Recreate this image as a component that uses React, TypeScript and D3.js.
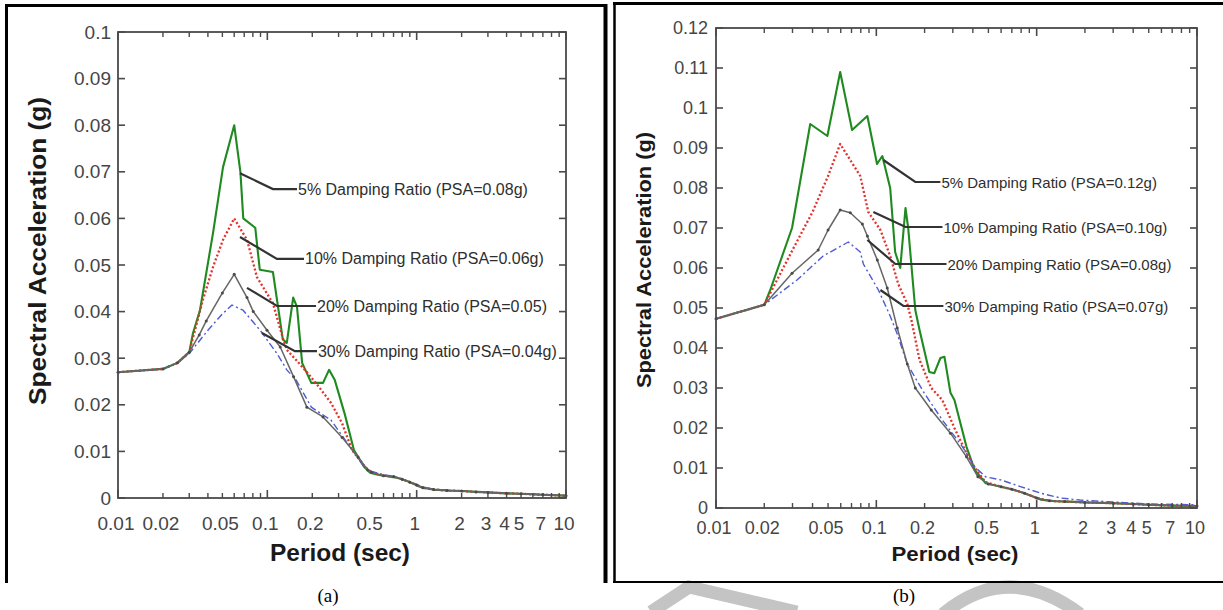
import React from "react";
import * as d3 from "d3";

// ---------------- Panel (a) data ----------------
const periodsA5 = [0.01, 0.02, 0.025, 0.03, 0.0318, 0.0354, 0.0433, 0.0505, 0.06, 0.066, 0.069, 0.083, 0.089, 0.109, 0.127, 0.135, 0.149, 0.158, 0.171, 0.197, 0.236, 0.259, 0.283, 0.33, 0.38, 0.444, 0.488, 0.55, 0.65, 0.75, 0.89, 1.05, 1.3, 1.6, 2, 3, 4, 5, 7, 10];
const accA5 = [0.027, 0.0277, 0.029, 0.0313, 0.0354, 0.0403, 0.0569, 0.071, 0.080, 0.070, 0.060, 0.058, 0.049, 0.0485, 0.034, 0.0333, 0.043, 0.041, 0.029, 0.0247, 0.0247, 0.0275, 0.0253, 0.018, 0.0103, 0.0067, 0.0054, 0.005, 0.0046, 0.0043, 0.0035, 0.0024, 0.0018, 0.0016, 0.0015, 0.0012, 0.001, 0.0009, 0.0007, 0.0005];

const periodsA10 = [0.01, 0.02, 0.025, 0.03, 0.037, 0.0433, 0.0505, 0.06, 0.0731, 0.0852, 0.109, 0.127, 0.135, 0.156, 0.184, 0.222, 0.267, 0.317, 0.369, 0.45, 0.5, 0.6, 0.7, 0.8, 0.9, 1.0, 1.1, 1.3, 1.6, 2, 2.5, 3, 4, 5, 7, 10];
const accA10 = [0.027, 0.0277, 0.029, 0.0313, 0.0425, 0.0496, 0.0554, 0.060, 0.0554, 0.0474, 0.0418, 0.0343, 0.0318, 0.0296, 0.027, 0.0238, 0.0204, 0.016, 0.0103, 0.0067, 0.0055, 0.0048, 0.0046, 0.004, 0.0034, 0.0028, 0.0022, 0.0018, 0.0016, 0.0015, 0.0013, 0.0012, 0.001, 0.0009, 0.0007, 0.0005];

const periodsA20 = [0.01, 0.02, 0.025, 0.03, 0.035, 0.039, 0.05, 0.06, 0.0731, 0.0805, 0.0995, 0.122, 0.15, 0.184, 0.236, 0.317, 0.405, 0.47, 0.5, 0.6, 0.7, 0.8, 0.9, 1.0, 1.1, 1.3, 1.6, 2, 2.5, 3, 4, 5, 7, 10];
const accA20 = [0.027, 0.0277, 0.029, 0.0313, 0.035, 0.038, 0.044, 0.048, 0.043, 0.040, 0.036, 0.0324, 0.026, 0.0195, 0.0174, 0.013, 0.0088, 0.006, 0.0055, 0.0048, 0.0046, 0.004, 0.0034, 0.0028, 0.0022, 0.0018, 0.0016, 0.0015, 0.0013, 0.0012, 0.001, 0.0009, 0.0007, 0.0005];

const periodsA30 = [0.01, 0.02, 0.025, 0.03, 0.04, 0.05, 0.058, 0.0688, 0.0894, 0.116, 0.135, 0.156, 0.197, 0.267, 0.358, 0.444, 0.5, 0.6, 0.7, 0.8, 0.9, 1.0, 1.1, 1.3, 1.6, 2, 2.5, 3, 4, 5, 7, 10];
const accA30 = [0.027, 0.0277, 0.029, 0.031, 0.036, 0.0395, 0.0414, 0.0403, 0.036, 0.031, 0.0275, 0.0253, 0.0195, 0.0167, 0.011, 0.0067, 0.0057, 0.005, 0.0047, 0.0041, 0.0035, 0.0029, 0.0023, 0.0019, 0.0017, 0.0015, 0.0013, 0.0012, 0.001, 0.0009, 0.0007, 0.0005];

const labelsA = ["5% Damping Ratio (PSA=0.08g)", "10% Damping Ratio (PSA=0.06g)", "20% Damping Ratio (PSA=0.05)", "30% Damping Ratio (PSA=0.04g)"];
const anchorPeriodsA = [0.0656, 0.0656, 0.0731, 0.092];
const anchorAccA = [0.0697, 0.056, 0.0451, 0.0354];
const elbowPeriodsA = [0.109, 0.116, 0.116, 0.153];
const elbowAccA = [0.0663, 0.0513, 0.0412, 0.0315];
const textPeriodsA = [0.158, 0.176, 0.212, 0.215];

// ---------------- Panel (b) data ----------------
const periodsB5 = [0.01, 0.02, 0.0218, 0.0298, 0.0387, 0.0495, 0.0595, 0.0706, 0.0879, 0.101, 0.109, 0.122, 0.131, 0.141, 0.152, 0.158, 0.175, 0.186, 0.214, 0.230, 0.251, 0.266, 0.290, 0.307, 0.365, 0.411, 0.48, 0.6, 0.7, 0.84, 1.06, 1.3, 1.6, 2, 3, 4, 5, 7, 10];
const accB5 = [0.0473, 0.0508, 0.0545, 0.070, 0.096, 0.093, 0.109, 0.0945, 0.098, 0.086, 0.088, 0.080, 0.064, 0.060, 0.075, 0.070, 0.0495, 0.0445, 0.034, 0.0337, 0.0375, 0.0378, 0.0288, 0.027, 0.0153, 0.0095, 0.0062, 0.0053, 0.0047, 0.0037, 0.0021, 0.0017, 0.0016, 0.0014, 0.0012, 0.001, 0.0008, 0.0006, 0.0005];

const periodsB10 = [0.01, 0.02, 0.03, 0.04, 0.05, 0.0595, 0.0794, 0.0891, 0.106, 0.122, 0.137, 0.156, 0.1655, 0.186, 0.22, 0.258, 0.307, 0.365, 0.42, 0.48, 0.6, 0.7, 0.84, 1.0, 1.2, 1.5, 2, 3, 4, 5, 7, 10];
const accB10 = [0.0473, 0.0508, 0.0645, 0.074, 0.083, 0.091, 0.083, 0.074, 0.0695, 0.063, 0.056, 0.051, 0.047, 0.037, 0.030, 0.027, 0.020, 0.0137, 0.0095, 0.0065, 0.0053, 0.0047, 0.0037, 0.0025, 0.0018, 0.0016, 0.0014, 0.0012, 0.001, 0.0008, 0.0006, 0.0005];

const periodsB20 = [0.01, 0.02, 0.0298, 0.0434, 0.05, 0.0595, 0.0688, 0.0818, 0.0879, 0.1014, 0.117, 0.135, 0.156, 0.175, 0.22, 0.29, 0.365, 0.43, 0.5, 0.6, 0.7, 0.84, 1.0, 1.2, 1.5, 2, 3, 4, 5, 7, 10];
const accB20 = [0.0473, 0.0508, 0.0587, 0.0645, 0.0695, 0.0745, 0.0738, 0.071, 0.068, 0.062, 0.055, 0.045, 0.036, 0.030, 0.0245, 0.0187, 0.0128, 0.0078, 0.006, 0.0053, 0.0047, 0.0037, 0.0025, 0.0018, 0.0016, 0.0014, 0.0012, 0.001, 0.0008, 0.0006, 0.0005];

const periodsB30 = [0.01, 0.02, 0.032, 0.0466, 0.0669, 0.0794, 0.083, 0.103, 0.122, 0.135, 0.156, 0.197, 0.258, 0.345, 0.41, 0.48, 0.6, 0.8, 1.06, 1.41, 1.86, 3, 5, 7, 10];
const accB30 = [0.0473, 0.0508, 0.057, 0.063, 0.0665, 0.064, 0.061, 0.0545, 0.048, 0.0435, 0.036, 0.029, 0.022, 0.0153, 0.0103, 0.0078, 0.007, 0.0053, 0.0037, 0.0025, 0.002, 0.0015, 0.001, 0.0009, 0.0008];

const labelsB = ["5% Damping Ratio (PSA=0.12g)", "10% Damping Ratio (PSA=0.10g)", "20% Damping Ratio (PSA=0.08g)", "30% Damping Ratio (PSA=0.07g)"];
const anchorPeriodsB = [0.1106, 0.0958, 0.0879, 0.106];
const anchorAccB = [0.087, 0.074, 0.067, 0.0545];
const elbowPeriodsB = [0.175, 0.152, 0.1315, 0.1475];
const elbowAccB = [0.0815, 0.07025, 0.061, 0.0505];
const textPeriodsB = [0.251, 0.2585, 0.274, 0.262];

// ---------------- ticks / titles ----------------
const xTickLabels = [0.01, 0.02, 0.05, 0.1, 0.2, 0.5, 1, 2, 3, 4, 5, 7, 10];
const yTicksA = [0, 0.01, 0.02, 0.03, 0.04, 0.05, 0.06, 0.07, 0.08, 0.09, 0.1];
const yTicksB = [0, 0.01, 0.02, 0.03, 0.04, 0.05, 0.06, 0.07, 0.08, 0.09, 0.1, 0.11, 0.12];
const xTitle = "Period (sec)";
const yTitle = "Spectral Acceleration (g)";

const FONT = "'Liberation Sans', Arial, Helvetica, sans-serif";

const STYLES: Record<string, { stroke: string; width: number; dash?: string }> = {
  green: { stroke: "#1f8a1f", width: 2.1 },
  red: { stroke: "#e3302a", width: 2.3, dash: "2 2.2" },
  blue: { stroke: "#4d5bd4", width: 1.4, dash: "7 3 2 3" },
  grey: { stroke: "#666", width: 1.5 },
};

type Cfg = {
  x0: number; x1: number; y0: number; y1: number; ymax: number;
  tickFont: number; labelFont: number; titleFont: number;
  yTitleX: number; yTitleY: number; yTitleLen: number;
  xTitleX: number; xTitleY: number; xTitleLen: number;
  xLabelY: number; yLabelX: number;
};

function fmtY(v: number) {
  return v === 0 ? "0" : String(+v.toFixed(2));
}

function Panel({ cfg, series, labels, ann, yTicks }: any) {
  const c: Cfg = cfg;
  const x = d3.scaleLog().domain([0.01, 10]).range([c.x0, c.x1]);
  const y = d3.scaleLinear().domain([0, c.ymax]).range([c.y1, c.y0]);
  const line = d3.line<[number, number]>().x((d) => x(d[0])).y((d) => y(d[1]));

  const minor: number[] = [];
  [0.01, 0.1, 1].forEach((dec) => {
    for (let k = 2; k <= 9; k++) minor.push(dec * k);
  });
  const major = [0.01, 0.1, 1, 10];

  return (
    <g>
      {series.map((s: any, i: number) => {
        const st = STYLES[s.kind];
        const pts: [number, number][] = s.periods.map((p: number, j: number) => [p, s.acc[j]]);
        return (
          <g key={i}>
            <path d={line(pts) || ""} fill="none" stroke={st.stroke} strokeWidth={st.width}
              strokeDasharray={st.dash} strokeLinejoin="round" />
            {s.kind === "grey" && pts.map((p, j) => (
              <circle key={j} cx={x(p[0])} cy={y(p[1])} r={1.5} fill="#4a4a4a" />
            ))}
          </g>
        );
      })}

      <rect x={c.x0} y={c.y0} width={c.x1 - c.x0} height={c.y1 - c.y0} fill="none" stroke="#4a4a4a" strokeWidth={1.8} />

      {yTicks.map((v: number, i: number) => (
        <g key={"y" + i}>
          <line x1={c.x0} x2={c.x0 + 7} y1={y(v)} y2={y(v)} stroke="#4a4a4a" strokeWidth={1.6} />
          <line x1={c.x1} x2={c.x1 - 7} y1={y(v)} y2={y(v)} stroke="#4a4a4a" strokeWidth={1.6} />
          <text x={c.yLabelX} y={y(v)} textAnchor="end" dominantBaseline="central"
            fontFamily={FONT} fontSize={c.tickFont} fill="#454545">{fmtY(v)}</text>
        </g>
      ))}

      {minor.map((t, i) => (
        <g key={"m" + i}>
          <line x1={x(t)} x2={x(t)} y1={c.y1} y2={c.y1 - 5} stroke="#4a4a4a" strokeWidth={1.4} />
          <line x1={x(t)} x2={x(t)} y1={c.y0} y2={c.y0 + 5} stroke="#4a4a4a" strokeWidth={1.4} />
        </g>
      ))}
      {major.map((t, i) => (
        <g key={"M" + i}>
          <line x1={x(t)} x2={x(t)} y1={c.y1} y2={c.y1 - 8} stroke="#4a4a4a" strokeWidth={1.6} />
          <line x1={x(t)} x2={x(t)} y1={c.y0} y2={c.y0 + 8} stroke="#4a4a4a" strokeWidth={1.6} />
        </g>
      ))}
      {xTickLabels.map((t, i) => (
        <text key={"xl" + i} x={x(t) - 2} y={c.xLabelY} textAnchor="middle" dominantBaseline="central"
          fontFamily={FONT} fontSize={c.tickFont} fill="#454545">{String(t)}</text>
      ))}

      {labels.map((lab: string, i: number) => {
        const pts: [number, number][] = [
          [ann.anchorP[i], ann.anchorA[i]],
          [ann.elbowP[i], ann.elbowA[i]],
          [ann.textP[i], ann.elbowA[i]],
        ];
        return (
          <g key={"a" + i}>
            <path d={line(pts) || ""} fill="none" stroke="#333" strokeWidth={2.2} />
            <text x={x(ann.textP[i]) + 1} y={y(ann.elbowA[i])} dominantBaseline="central"
              fontFamily={FONT} fontSize={c.labelFont} fill="#2e2e2e">{lab}</text>
          </g>
        );
      })}

      <text transform={`translate(${c.yTitleX},${c.yTitleY}) rotate(-90)`} textAnchor="middle"
        dominantBaseline="central" fontFamily={FONT} fontWeight="bold" fontSize={c.titleFont}
        fill="#1a1a1a" textLength={c.yTitleLen} lengthAdjust="spacingAndGlyphs">{yTitle}</text>
      <text x={c.xTitleX} y={c.xTitleY} textAnchor="middle" dominantBaseline="central"
        fontFamily={FONT} fontWeight="bold" fontSize={c.titleFont} fill="#1a1a1a"
        textLength={c.xTitleLen} lengthAdjust="spacingAndGlyphs">{xTitle}</text>
    </g>
  );
}

const cfgA: Cfg = {
  x0: 118, x1: 566, y0: 32, y1: 498, ymax: 0.1,
  tickFont: 19, labelFont: 16, titleFont: 23,
  yTitleX: 38, yTitleY: 251, yTitleLen: 308,
  xTitleX: 340, xTitleY: 553, xTitleLen: 140,
  xLabelY: 523, yLabelX: 111,
};
const cfgB: Cfg = {
  x0: 716, x1: 1197, y0: 28, y1: 508, ymax: 0.12,
  tickFont: 18, labelFont: 15, titleFont: 21,
  yTitleX: 643, yTitleY: 260, yTitleLen: 256,
  xTitleX: 955, xTitleY: 553, xTitleLen: 127,
  xLabelY: 528, yLabelX: 708,
};

export default function App() {
  const seriesA = [
    { kind: "green", periods: periodsA5, acc: accA5 },
    { kind: "red", periods: periodsA10, acc: accA10 },
    { kind: "blue", periods: periodsA30, acc: accA30 },
    { kind: "grey", periods: periodsA20, acc: accA20 },
  ];
  const seriesB = [
    { kind: "green", periods: periodsB5, acc: accB5 },
    { kind: "red", periods: periodsB10, acc: accB10 },
    { kind: "blue", periods: periodsB30, acc: accB30 },
    { kind: "grey", periods: periodsB20, acc: accB20 },
  ];
  const annA = { anchorP: anchorPeriodsA, anchorA: anchorAccA, elbowP: elbowPeriodsA, elbowA: elbowAccA, textP: textPeriodsA };
  const annB = { anchorP: anchorPeriodsB, anchorA: anchorAccB, elbowP: elbowPeriodsB, elbowA: elbowAccB, textP: textPeriodsB };

  return (
    <svg width={1223} height={610} style={{ position: "absolute", left: 0, top: 0, background: "#fff" }}>
      <rect x={0} y={0} width={1223} height={610} fill="#fff" />
      <path d="M 651 612 L 689 587 L 797 612" fill="none" stroke="#c4c4c4" strokeWidth={13} />
      <path d="M 943 614 Q 1008 560 1080 614" fill="none" stroke="#c4c4c4" strokeWidth={13} />

      <g stroke="#000" fill="none">
        <line x1={6.5} y1={4} x2={6.5} y2={583} strokeWidth={3} />
        <line x1={5} y1={5.5} x2={607} y2={5.5} strokeWidth={3} />
        <line x1={605.5} y1={4} x2={605.5} y2={583} strokeWidth={4} />
        <line x1={614.5} y1={2} x2={614.5} y2={583} strokeWidth={2.5} />
        <line x1={613} y1={3.5} x2={1223} y2={3.5} strokeWidth={3} />
        <line x1={613} y1={582} x2={1223} y2={582} strokeWidth={2} />
      </g>

      <Panel cfg={cfgA} series={seriesA} labels={labelsA} ann={annA} yTicks={yTicksA} />
      <Panel cfg={cfgB} series={seriesB} labels={labelsB} ann={annB} yTicks={yTicksB} />

      <text x={328} y={595} textAnchor="middle" dominantBaseline="central"
        fontFamily="'Liberation Serif', 'Times New Roman', serif" fontSize={19} fill="#000">(a)</text>
      <text x={904} y={595} textAnchor="middle" dominantBaseline="central"
        fontFamily="'Liberation Serif', 'Times New Roman', serif" fontSize={19} fill="#000">(b)</text>
    </svg>
  );
}
